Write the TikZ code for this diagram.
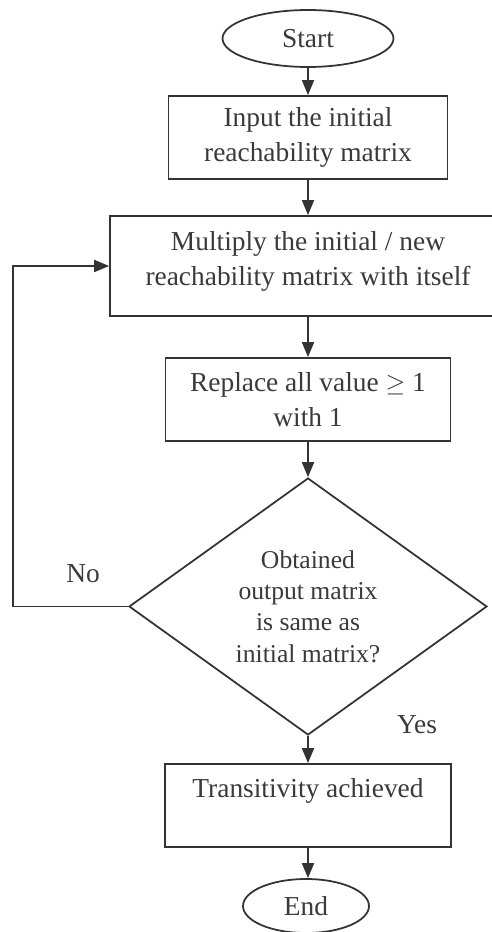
\documentclass[tikz,border=0pt]{standalone}
\usepackage{fontspec}
\setmainfont{Liberation Serif}
\usetikzlibrary{shapes.geometric,arrows.meta}

\definecolor{ink}{HTML}{333333}
\definecolor{txt}{HTML}{3A3A3A}

\tikzset{
  flow/.style={draw=ink, line width=1pt, text=txt, align=center,
               font=\fontsize{15.6}{19.5}\selectfont, inner sep=0pt},
  terminal/.style={flow, ellipse},
  process/.style={flow, rectangle},
  decision/.style={flow, diamond, font=\fontsize{14.6}{17.8}\selectfont},
  flowarrow/.style={draw=ink, line width=1pt, -{Triangle[length=3mm,width=2.4mm]}},
  answer/.style={text=txt, font=\fontsize{15.6}{19}\selectfont, inner sep=0pt}
}

\begin{document}
% one unit = one pixel, y grows downwards
\begin{tikzpicture}[x=0.02cm, y=-0.02cm]
  \useasboundingbox (0,0) rectangle (491,932);
  \fill[white] (0,0) rectangle (491,932);

  \node[terminal, minimum width=3.42cm, minimum height=1.14cm] (start) at (308,38.5) {Start};
  \node[process, minimum width=5.58cm, minimum height=1.66cm] (input) at (308,137.5)
    {Input the initial\\reachability matrix};
  \node[process, minimum width=7.92cm, minimum height=2.0cm] (multiply) at (308,266)
    {Multiply the initial / new\\reachability matrix with itself\\[-11pt]\mbox{}};
  \node[process, minimum width=5.7cm, minimum height=1.66cm] (replace) at (308,399.5)
    {Replace all value \(\geq\) 1\\with 1};
  \node[decision, minimum width=7.16cm, minimum height=5.14cm] (check) at (308,606.5)
    {Obtained\\output matrix\\is same as\\initial matrix?};
  \node[process, minimum width=5.72cm, minimum height=1.66cm] (done) at (308,805.5)
    {Transitivity achieved\\\mbox{}};
  \node[terminal, minimum width=2.52cm, minimum height=1.08cm] (end) at (306,906) {End};

  \coordinate (loopcorner) at (13,606.5);

  \draw[flowarrow] (start.south) -- (input.north);
  \draw[flowarrow] (input.south) -- (multiply.north);
  \draw[flowarrow] (multiply.south) -- (replace.north);
  \draw[flowarrow] (replace.south) -- (check.north);
  \draw[flowarrow] (check.west) -- (loopcorner) |- (multiply.west);
  \draw[flowarrow] (check.south) -- (done.north);
  \draw[flowarrow] (done.south) -- (done.south |- end.north);

  \node[answer] (no) at (83,574) {No};
  \node[answer] (yes) at (417,725) {Yes};
\end{tikzpicture}
\end{document}
